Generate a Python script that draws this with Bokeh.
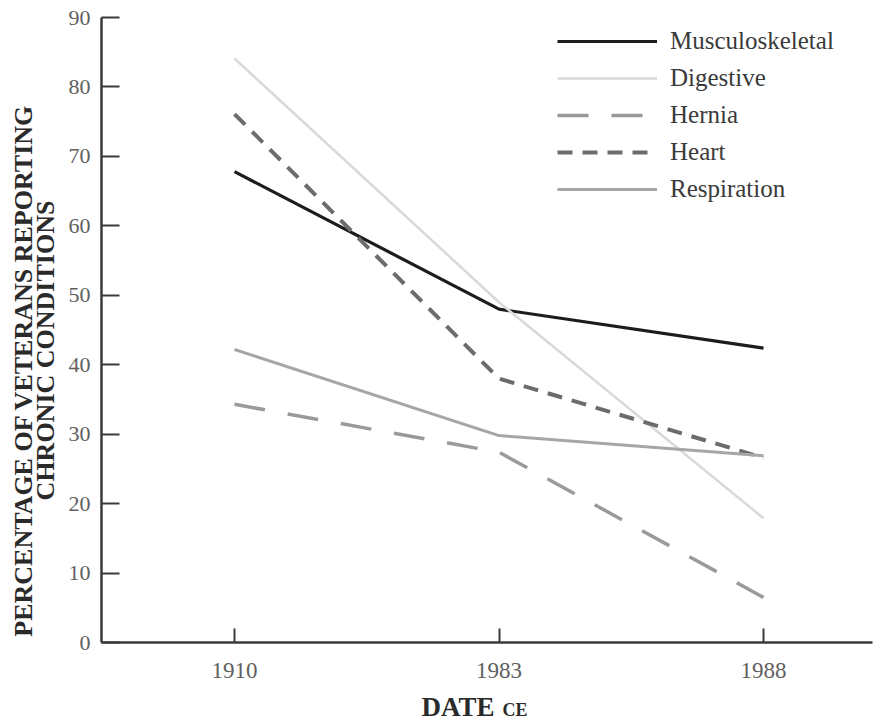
import math
from bokeh.plotting import figure
from bokeh.models import FixedTicker, Legend, LegendItem, Label, Range1d
from bokeh.embed import file_html
from bokeh.resources import INLINE

# ---- data ----
years = ["1910", "1983", "1988"]
xpos = [0, 1, 2]
musculoskeletal = [67.8, 48.0, 42.4]
digestive = [84.1, 49.0, 17.9]
hernia = [34.3, 27.4, 6.5]
heart = [76.1, 38.0, 26.6]
respiration = [42.2, 29.8, 26.9]
y_ticks = [0, 10, 20, 30, 40, 50, 60, 70, 80, 90]

SERIF = "Liberation Serif"

W, H = 886, 725
p = figure(width=W, height=H, output_backend="svg", toolbar_location=None,
           x_range=Range1d(-0.8847, 2.4650), y_range=Range1d(-11.95, 92.45),
           min_border=0)
p.outline_line_color = None
p.xgrid.grid_line_color = None
p.ygrid.grid_line_color = None
p.background_fill_color = "white"
p.border_fill_color = "white"

r_mus = p.line(xpos, musculoskeletal, line_color="#1c1c1c", line_width=3.2)
r_dig = p.line(xpos, digestive, line_color="#d9d9d9", line_width=2.5)
r_her = p.line(xpos, hernia, line_color="#9a9a9a", line_width=3.5, line_dash="31 23")
r_hea = p.line(xpos, heart, line_color="#6c6c6c", line_width=4, line_dash="15 10")
r_res = p.line(xpos, respiration, line_color="#a6a6a6", line_width=3)

for ax in (p.xaxis[0], p.yaxis[0]):
    ax.axis_line_color = "#3a3a3a"
    ax.axis_line_width = 2.5
    ax.major_tick_line_color = "#3a3a3a"
    ax.major_tick_line_width = 2
    ax.major_tick_in = 18
    ax.major_tick_out = 0
    ax.minor_tick_line_color = None
    ax.major_label_text_font = SERIF
    ax.major_label_text_color = "#606060"
    ax.major_label_text_font_style = "normal"

p.xaxis.fixed_location = 0
p.xaxis.bounds = (-0.5028, 2.412)
p.xaxis.ticker = FixedTicker(ticks=xpos)
p.xaxis.major_label_overrides = {x: y for x, y in zip(xpos, years)}
p.xaxis.major_label_text_font_size = "23px"
p.xaxis.major_label_standoff = 20
p.xaxis.major_tick_in = 14

p.yaxis.fixed_location = -0.5028
p.yaxis.bounds = (0, 90)
p.yaxis.ticker = FixedTicker(ticks=y_ticks)
p.yaxis.major_label_text_font_size = "22px"
p.yaxis.major_label_standoff = 11

# axis titles as labels
title_kw = dict(text_font=SERIF, text_font_style="bold", text_color="#2a2a2a")
p.add_layout(Label(x=-0.799, y=39.17, text="PERCENTAGE OF VETERANS REPORTING", angle=math.pi / 2,
                   text_align="center", text_baseline="middle", text_font_size="26px", **title_kw))
p.add_layout(Label(x=-0.713, y=42.05, text="CHRONIC CONDITIONS", angle=math.pi / 2,
                   text_align="center", text_baseline="middle", text_font_size="26px", **title_kw))
p.add_layout(Label(x=0.983, y=-9.22, text="DATE", text_align="right", text_baseline="middle",
                   text_font_size="27px", **title_kw))
p.add_layout(Label(x=1.0132, y=-9.65, text="CE", text_align="left", text_baseline="middle",
                   text_font_size="18px", **title_kw))

legend = Legend(items=[
    LegendItem(label="Musculoskeletal", renderers=[r_mus]),
    LegendItem(label="Digestive", renderers=[r_dig]),
    LegendItem(label="Hernia", renderers=[r_her]),
    LegendItem(label="Heart", renderers=[r_hea]),
    LegendItem(label="Respiration", renderers=[r_res]),
], location=(557, 522))
legend.border_line_color = None
legend.background_fill_alpha = 0
legend.padding = 0
legend.margin = 0
legend.glyph_width = 100
legend.glyph_height = 20
legend.label_height = 20
legend.label_standoff = 13
legend.spacing = 9
legend.label_text_font = SERIF
legend.label_text_font_size = "25px"
legend.label_text_color = "#3a3a3a"
p.add_layout(legend)

open("out.html", "w").write(file_html(p, INLINE))
